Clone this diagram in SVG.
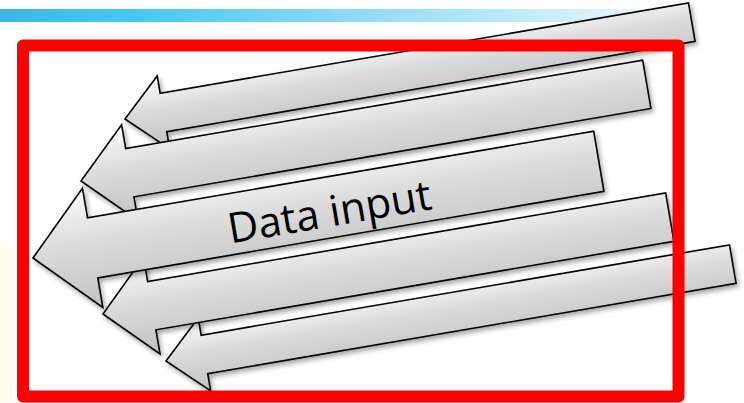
<svg xmlns="http://www.w3.org/2000/svg" width="744" height="403" viewBox="0 0 744 403">
  <defs>
    <linearGradient id="barGrad" x1="0" y1="0" x2="700" y2="0" gradientUnits="userSpaceOnUse">
      <stop offset="0" stop-color="#3db8e6"/>
      <stop offset="0.18" stop-color="#43c7f2"/>
      <stop offset="0.5" stop-color="#8cdaf5"/>
      <stop offset="0.8" stop-color="#cdeefa"/>
      <stop offset="1" stop-color="#ffffff"/>
    </linearGradient>
    <linearGradient id="arrowFill" x1="0" y1="0" x2="0" y2="1">
      <stop offset="0" stop-color="#fbfbfb"/>
      <stop offset="0.45" stop-color="#dcdcdc"/>
      <stop offset="1" stop-color="#c0c0c0"/>
    </linearGradient>
    <filter id="shadow" x="-10%" y="-30%" width="120%" height="160%">
      <feDropShadow dx="2" dy="3" stdDeviation="2.5" flood-color="#000" flood-opacity="0.35"/>
    </filter>
  </defs>
  <style>
    .arrow { fill: url(#arrowFill); stroke: #000; stroke-width: 1.6; stroke-linejoin: miter; }
    .label { font-family: "Open Sans", "Liberation Sans", sans-serif; font-size: 42px; fill: #000; }
  </style>

  <!-- header band -->
  <rect x="0" y="9" width="700" height="13" fill="url(#barGrad)"/>
  <!-- pale strip at the left margin -->
  <rect x="0" y="246" width="13" height="157" fill="#fffdf0"/>

  <!-- arrows (lowest layer first) -->
  <g id="arrow1" filter="url(#shadow)">
    <g transform="translate(125,119) rotate(-9.7)">
      <polygon class="arrow" points="0,0 39,-37 39,-19.5 575,-19.5 575,19.5 39,19.5 39,37"/>
    </g>
  </g>
  <g id="arrow5" filter="url(#shadow)">
    <g transform="translate(166,361) rotate(-9.7)">
      <polygon class="arrow" points="0,0 39,-37 39,-19.5 575,-19.5 575,19.5 39,19.5 39,37"/>
    </g>
  </g>
  <g id="arrow2" filter="url(#shadow)">
    <g transform="translate(81,181) rotate(-9.7)">
      <polygon class="arrow" points="0,0 49.5,-48.5 49.5,-24.5 574,-24.5 574,24.5 49.5,24.5 49.5,48.5"/>
    </g>
  </g>
  <g id="arrow4" filter="url(#shadow)">
    <g transform="translate(103,314) rotate(-9.7)">
      <polygon class="arrow" points="0,0 49.5,-49 49.5,-24.5 575,-24.5 575,24.5 49.5,24.5 49.5,49"/>
    </g>
  </g>
  <g id="arrow3">
    <g filter="url(#shadow)">
      <g transform="translate(33,258) rotate(-9.7)">
        <polygon class="arrow" points="0,0 60.5,-60.5 60.5,-30.5 574,-30.5 574,30.5 60.5,30.5 60.5,60.5"/>
      </g>
    </g>
    <g transform="translate(33,258) rotate(-9.7)">
      <text class="label" x="197" y="19">Data input</text>
    </g>
  </g>

  <!-- red frame on top -->
  <rect id="frame" x="23" y="45.5" width="655.5" height="351" fill="none" stroke="#ff0000" stroke-width="12" stroke-linejoin="round"/>
</svg>
